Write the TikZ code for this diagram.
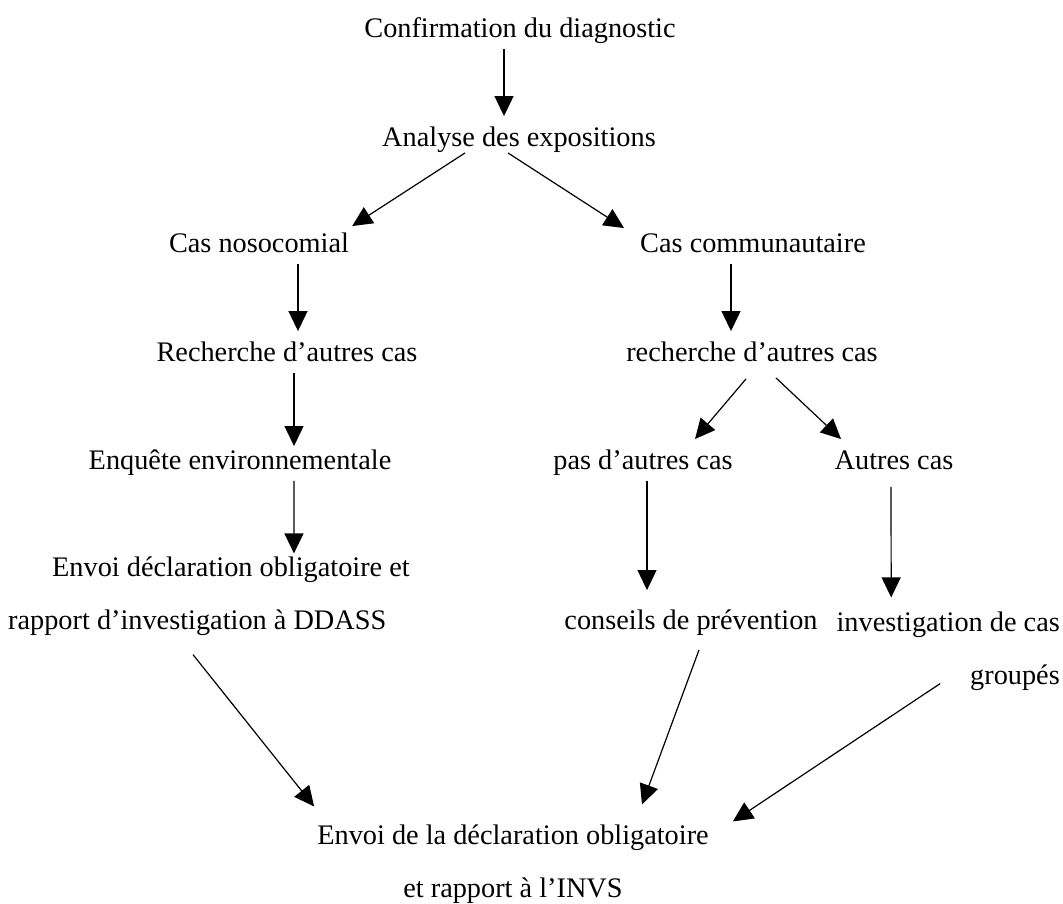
\documentclass[tikz,border=0pt]{standalone}
\usepackage{fontspec}
\setmainfont{Liberation Serif}
\usepackage{tikz}
\usetikzlibrary{arrows.meta,shapes}

\tikzset{
  etape/.style={inner sep=3pt, text height=27pt, text depth=8.5pt},
  bloc/.style={inner sep=3pt},
  fleche/.style={-{Triangle[length=20pt,width=19pt]}, line width=1.2pt}
}

\begin{document}
\begin{tikzpicture}[x=1pt, y=-1pt, font=\fontsize{28.3}{53}\selectfont]
        \useasboundingbox (0,0) rectangle (1063,904);
        % les etapes
        \node[etape] (conf) at (520,28) {Confirmation du diagnostic};
        \node[etape] (anal) at (519,137) {Analyse des expositions};
        \node[etape] (noso) at (259,243) {Cas nosocomial};
        \node[etape] (comm) at (753,243) {Cas communautaire};
        \node[etape] (rechnoso) at (287,352) {Recherche d'autres cas};
        \node[etape] (rechcomm) at (752,352) {recherche d'autres cas};
        \node[etape] (enq) at (240,460) {Enquête environnementale};
        \node[etape] (pas) at (643,460) {pas d'autres cas};
        \node[etape] (autres) at (894,460) {Autres cas};
        \node[bloc, align=left, anchor=west] (ddass) at (5,596) {\hspace*{44pt}Envoi déclaration obligatoire et\\rapport d'investigation à DDASS};
        \node[etape] (conseils) at (691,620) {conseils de prévention};
        \node[bloc, align=right, anchor=east] (groupes) at (1063,651) {investigation de cas\\groupés};
        \node[bloc, align=center] (invs) at (513,864) {Envoi de la déclaration obligatoire\\et rapport à l'INVS};
        % les fleches
        \draw[fleche] ([xshift=-16pt]conf.south) -- ([xshift=-15pt]anal.north);
        \draw[fleche] ([xshift=-54pt,yshift=5pt]anal.south) -- ([yshift=-4pt]noso.north east);
        \draw[fleche] ([xshift=-11pt,yshift=5pt]anal.south) -- ([xshift=-13pt,yshift=-6pt]comm.north west);
        \draw[fleche] ([xshift=39pt]noso.south) -- ([xshift=11pt]rechnoso.north);
        \draw[fleche] ([xshift=-22pt]comm.south) -- ([xshift=-21pt]rechcomm.north);
        \draw[fleche] ([xshift=7pt]rechnoso.south) -- ([xshift=54pt,yshift=-7pt]enq.north);
        \draw[fleche] ([xshift=-6pt,yshift=-6pt]rechcomm.south) -- ([xshift=52pt]pas.north);
        \draw[fleche] ([xshift=24pt,yshift=-5pt]rechcomm.south) -- ([xshift=-53pt]autres.north);
        \draw[fleche] ([xshift=54pt]enq.south) -- ([xshift=85pt]ddass.north);
        \draw[fleche] ([xshift=4pt]pas.south) -- ([xshift=-44pt,yshift=9pt]conseils.north);
        \draw[fleche] ([xshift=-3pt,yshift=-6pt]autres.south) -- ([xshift=-57pt,yshift=11pt]groupes.north);
        \draw[fleche] ([xshift=-16pt,yshift=-16pt]ddass.south) -- ([yshift=15pt]invs.north west);
        \draw[fleche] ([xshift=8pt,yshift=-9pt]conseils.south) -- ([xshift=129pt,yshift=17pt]invs.north);
        \draw[fleche] ([xshift=-8pt,yshift=10pt]groupes.south) -- ([xshift=21pt]invs.north east);
\end{tikzpicture}
\end{document}
